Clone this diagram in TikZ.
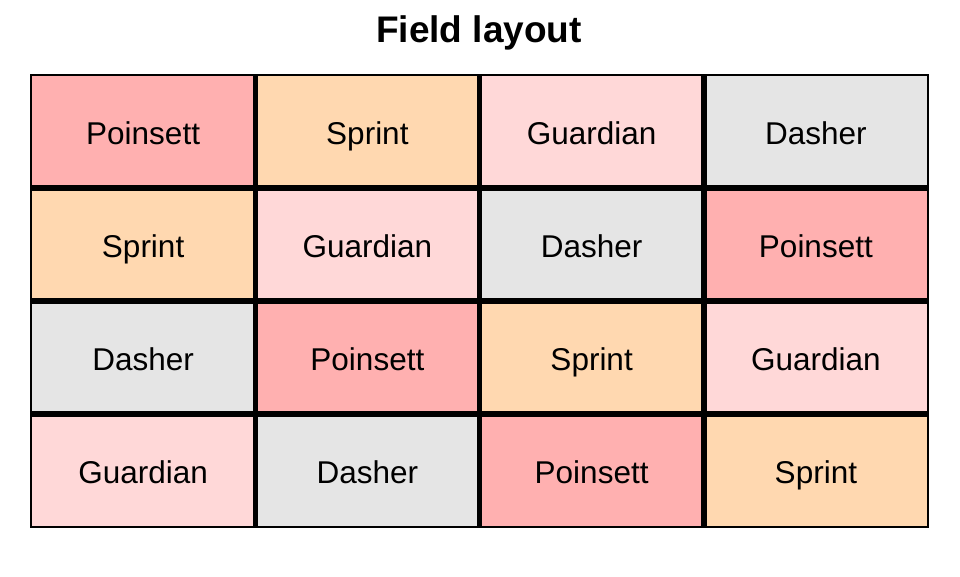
\documentclass[tikz,border=0pt]{standalone}
\usepackage{fontspec}
\setmainfont{Liberation Sans}
\definecolor{poin}{RGB}{255,176,176}
\definecolor{spri}{RGB}{255,216,176}
\definecolor{guar}{RGB}{255,216,216}
\definecolor{dash}{RGB}{229,229,229}
\tikzset{
  cellbox/.style={minimum width=224.25pt, minimum height=113pt, inner sep=0pt, outer sep=0pt},
  celltext/.style={anchor=base, inner sep=0pt, font=\fontsize{31.5}{36}\selectfont, text=black},
  Poinsett/.style={cellbox, fill=poin},
  Sprint/.style={cellbox, fill=spri},
  Guardian/.style={cellbox, fill=guar},
  Dasher/.style={cellbox, fill=dash},
  gridline/.style={line width=5.5pt, black},
}
\begin{document}
\begin{tikzpicture}[x=1pt,y=-1pt]
\useasboundingbox[fill=white] (0,0) rectangle (960,576);
\node[font=\bfseries\fontsize{37}{40}\selectfont, anchor=base, inner sep=0pt] (title) at (479,42.7) {Field layout};
\foreach \r/\names in {0/{Poinsett,Sprint,Guardian,Dasher},1/{Sprint,Guardian,Dasher,Poinsett},2/{Dasher,Poinsett,Sprint,Guardian},3/{Guardian,Dasher,Poinsett,Sprint}}{
  \foreach \nm [count=\c from 0] in \names {
    \node[\nm] (c\r\c) at ({31+224.25*(\c+0.5)},{75+113*(\r+0.5)}) {};
    \node[celltext] (t\r\c) at ([yshift=-12.8pt]c\r\c.center) {\nm};
  }
}
\foreach \i in {1,2,3}{
  \draw[gridline] ({31+224.25*\i},75) -- ({31+224.25*\i},527);
  \draw[gridline] (31,{75+113*\i}) -- (928,{75+113*\i});
}
\draw[line width=2pt] (31,75) rectangle (928,527);
\end{tikzpicture}
\end{document}
